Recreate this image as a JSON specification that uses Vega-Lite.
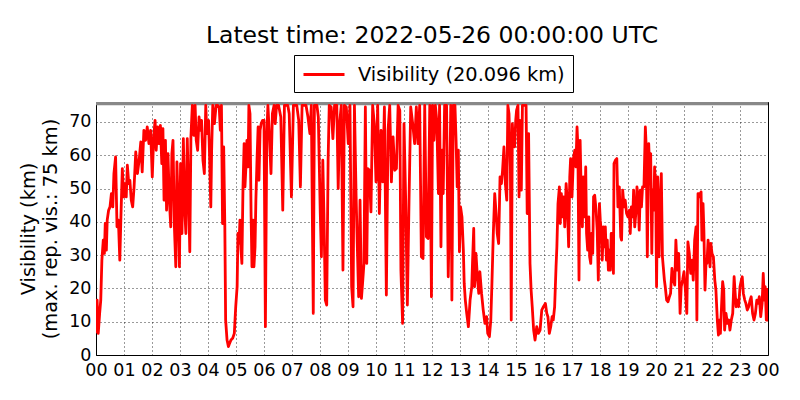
{
  "$schema": "https://vega.github.io/schema/vega-lite/v6.json",
  "width": 672,
  "height": 253,
  "autosize": {"type": "none"},
  "padding": {"left": 96, "top": 102, "right": 32, "bottom": 45},
  "background": "white",
  "title": {
    "text": "Latest time: 2022-05-26 00:00:00 UTC",
    "font": "DejaVu Sans",
    "fontSize": 23.5,
    "fontWeight": "normal",
    "color": "black",
    "anchor": "middle",
    "baseline": "alphabetic",
    "offset": 12,
    "dy": 24
  },
  "layer": [
    {
      "data": {"values": [{"lo": 75, "hi": 76}]},
      "mark": {"type": "rect", "color": "#888888"},
      "encoding": {
        "y": {
          "field": "lo",
          "type": "quantitative",
          "scale": {"domain": [0, 76], "nice": false},
          "axis": {
            "title": ["Visibility (km)", "(max. rep. vis.: 75 km)"],
            "values": [0, 10, 20, 30, 40, 50, 60, 70],
            "labelFlush": false,
            "labelPadding": 5,
            "titlePadding": 8
          }
        },
        "y2": {"field": "hi"}
      }
    },
    {
      "data": {
        "values": [
          {"h": 0.00, "vis": 6.5}, {"h": 0.04, "vis": 16.5}, {"h": 0.08, "vis": 6.5}, {"h": 0.13, "vis": 12.5}, {"h": 0.17, "vis": 16.5},
          {"h": 0.21, "vis": 28.5}, {"h": 0.26, "vis": 34.5}, {"h": 0.30, "vis": 30.5}, {"h": 0.33, "vis": 39.5}, {"h": 0.37, "vis": 31.5},
          {"h": 0.40, "vis": 40.5}, {"h": 0.45, "vis": 43.5}, {"h": 0.50, "vis": 44.5}, {"h": 0.55, "vis": 48.5}, {"h": 0.60, "vis": 44.5},
          {"h": 0.64, "vis": 54.5}, {"h": 0.70, "vis": 59.5}, {"h": 0.75, "vis": 38.5}, {"h": 0.80, "vis": 40.5}, {"h": 0.85, "vis": 28.5},
          {"h": 0.89, "vis": 41.5}, {"h": 0.94, "vis": 56}, {"h": 0.99, "vis": 47.5}, {"h": 1.04, "vis": 51.5}, {"h": 1.08, "vis": 47.5},
          {"h": 1.12, "vis": 57}, {"h": 1.17, "vis": 51.5}, {"h": 1.21, "vis": 52.5}, {"h": 1.26, "vis": 46.5}, {"h": 1.31, "vis": 44.5},
          {"h": 1.36, "vis": 50.5}, {"h": 1.42, "vis": 61}, {"h": 1.48, "vis": 54.5}, {"h": 1.54, "vis": 58.5}, {"h": 1.60, "vis": 64},
          {"h": 1.65, "vis": 55}, {"h": 1.71, "vis": 67.5}, {"h": 1.77, "vis": 64.5}, {"h": 1.83, "vis": 68.5}, {"h": 1.89, "vis": 63.5},
          {"h": 1.95, "vis": 67.5}, {"h": 2.01, "vis": 53.5}, {"h": 2.06, "vis": 65.5}, {"h": 2.11, "vis": 70.5}, {"h": 2.15, "vis": 61.5},
          {"h": 2.20, "vis": 68.5}, {"h": 2.25, "vis": 63.5}, {"h": 2.30, "vis": 69}, {"h": 2.35, "vis": 57.5}, {"h": 2.39, "vis": 68},
          {"h": 2.43, "vis": 46.5}, {"h": 2.48, "vis": 64.5}, {"h": 2.52, "vis": 43.5}, {"h": 2.57, "vis": 60.5}, {"h": 2.62, "vis": 46.5},
          {"h": 2.67, "vis": 38.5}, {"h": 2.71, "vis": 60.5}, {"h": 2.75, "vis": 64.5}, {"h": 2.80, "vis": 38.5}, {"h": 2.85, "vis": 26.5},
          {"h": 2.89, "vis": 58}, {"h": 2.93, "vis": 46.5}, {"h": 2.98, "vis": 26.5}, {"h": 3.02, "vis": 57.5}, {"h": 3.07, "vis": 36.5},
          {"h": 3.12, "vis": 65}, {"h": 3.17, "vis": 43.5}, {"h": 3.21, "vis": 36.5}, {"h": 3.26, "vis": 65}, {"h": 3.31, "vis": 46.5},
          {"h": 3.35, "vis": 31}, {"h": 3.39, "vis": 65.5}, {"h": 3.44, "vis": 75}, {"h": 3.49, "vis": 66}, {"h": 3.54, "vis": 75},
          {"h": 3.58, "vis": 64.5}, {"h": 3.63, "vis": 61.5}, {"h": 3.68, "vis": 71.5}, {"h": 3.73, "vis": 67.5}, {"h": 3.77, "vis": 70.5},
          {"h": 3.82, "vis": 58.5}, {"h": 3.87, "vis": 54.5}, {"h": 3.92, "vis": 75}, {"h": 3.96, "vis": 66.5},
          {"h": 4.02, "vis": 70.5}, {"h": 4.06, "vis": 58.5}, {"h": 4.10, "vis": 44.5}, {"h": 4.13, "vis": 61.5}, {"h": 4.17, "vis": 75},
          {"h": 4.23, "vis": 69.5}, {"h": 4.29, "vis": 75}, {"h": 4.35, "vis": 75}, {"h": 4.40, "vis": 74.5}, {"h": 4.44, "vis": 67.5},
          {"h": 4.48, "vis": 75}, {"h": 4.52, "vis": 39.5}, {"h": 4.56, "vis": 62.5}, {"h": 4.60, "vis": 39.5}, {"h": 4.63, "vis": 10.5},
          {"h": 4.68, "vis": 4.5}, {"h": 4.73, "vis": 2.5}, {"h": 4.77, "vis": 3.5}, {"h": 4.82, "vis": 4.5}, {"h": 4.88, "vis": 5},
          {"h": 4.94, "vis": 6.5}, {"h": 4.99, "vis": 14.5}, {"h": 5.04, "vis": 20.5}, {"h": 5.07, "vis": 36.5}, {"h": 5.11, "vis": 33.5},
          {"h": 5.14, "vis": 40.5}, {"h": 5.18, "vis": 31.5}, {"h": 5.21, "vis": 27.5}, {"h": 5.25, "vis": 50.5}, {"h": 5.29, "vis": 63.5},
          {"h": 5.32, "vis": 50.5}, {"h": 5.36, "vis": 57.5}, {"h": 5.39, "vis": 64.5}, {"h": 5.43, "vis": 56.5}, {"h": 5.46, "vis": 75},
          {"h": 5.50, "vis": 72.5}, {"h": 5.54, "vis": 41.5}, {"h": 5.57, "vis": 26.5}, {"h": 5.61, "vis": 40.5}, {"h": 5.64, "vis": 26.5},
          {"h": 5.68, "vis": 32.5}, {"h": 5.71, "vis": 46.5}, {"h": 5.75, "vis": 58.5}, {"h": 5.79, "vis": 68.5}, {"h": 5.82, "vis": 52.5},
          {"h": 5.86, "vis": 67.5}, {"h": 5.90, "vis": 69.5}, {"h": 5.95, "vis": 70.5}, {"h": 6.00, "vis": 70.5}, {"h": 6.05, "vis": 8.5},
          {"h": 6.10, "vis": 66.5}, {"h": 6.14, "vis": 75}, {"h": 6.19, "vis": 66.5}, {"h": 6.25, "vis": 54.5}, {"h": 6.30, "vis": 72.5},
          {"h": 6.36, "vis": 75}, {"h": 6.40, "vis": 69.5}, {"h": 6.45, "vis": 75}, {"h": 6.52, "vis": 75}, {"h": 6.60, "vis": 71.5},
          {"h": 6.67, "vis": 43.5}, {"h": 6.73, "vis": 75}, {"h": 6.85, "vis": 75}, {"h": 6.90, "vis": 72.5}, {"h": 6.98, "vis": 47.5},
          {"h": 7.05, "vis": 75}, {"h": 7.17, "vis": 75}, {"h": 7.24, "vis": 70.5}, {"h": 7.30, "vis": 50.5}, {"h": 7.36, "vis": 75},
          {"h": 7.50, "vis": 75}, {"h": 7.57, "vis": 71.5}, {"h": 7.64, "vis": 66.5}, {"h": 7.69, "vis": 75}, {"h": 7.76, "vis": 12.5},
          {"h": 7.80, "vis": 75}, {"h": 7.89, "vis": 75}, {"h": 7.94, "vis": 71.5}, {"h": 8.01, "vis": 42.5},
          {"h": 8.05, "vis": 29.5}, {"h": 8.10, "vis": 58.5}, {"h": 8.14, "vis": 42.5}, {"h": 8.19, "vis": 16.5}, {"h": 8.24, "vis": 15},
          {"h": 8.29, "vis": 58.5}, {"h": 8.33, "vis": 75}, {"h": 8.40, "vis": 74.5}, {"h": 8.46, "vis": 65}, {"h": 8.52, "vis": 75},
          {"h": 8.60, "vis": 75}, {"h": 8.65, "vis": 50}, {"h": 8.70, "vis": 69.5}, {"h": 8.76, "vis": 75}, {"h": 8.82, "vis": 25.5},
          {"h": 8.87, "vis": 75}, {"h": 8.94, "vis": 74.5}, {"h": 9.01, "vis": 63.5}, {"h": 9.07, "vis": 75}, {"h": 9.13, "vis": 20.5},
          {"h": 9.18, "vis": 14.5}, {"h": 9.23, "vis": 75}, {"h": 9.29, "vis": 47.5}, {"h": 9.33, "vis": 33.5}, {"h": 9.38, "vis": 17.5},
          {"h": 9.43, "vis": 46.5}, {"h": 9.48, "vis": 17}, {"h": 9.52, "vis": 21.5}, {"h": 9.57, "vis": 27.5}, {"h": 9.62, "vis": 74.5},
          {"h": 9.67, "vis": 27.5}, {"h": 9.71, "vis": 56}, {"h": 9.76, "vis": 55.5}, {"h": 9.82, "vis": 43}, {"h": 9.88, "vis": 75},
          {"h": 9.94, "vis": 69.5}, {"h": 10.00, "vis": 52}, {"h": 10.06, "vis": 75}, {"h": 10.12, "vis": 42.5}, {"h": 10.18, "vis": 67.5},
          {"h": 10.24, "vis": 52}, {"h": 10.30, "vis": 74.5}, {"h": 10.37, "vis": 18}, {"h": 10.43, "vis": 67.5}, {"h": 10.49, "vis": 75},
          {"h": 10.55, "vis": 52}, {"h": 10.61, "vis": 65.5}, {"h": 10.67, "vis": 55.5}, {"h": 10.73, "vis": 56}, {"h": 10.79, "vis": 75},
          {"h": 10.85, "vis": 73.5}, {"h": 10.89, "vis": 25.5}, {"h": 10.95, "vis": 9.5}, {"h": 11.00, "vis": 69.5}, {"h": 11.06, "vis": 46.5},
          {"h": 11.12, "vis": 15}, {"h": 11.18, "vis": 46.5}, {"h": 11.24, "vis": 74.5}, {"h": 11.31, "vis": 69.5}, {"h": 11.38, "vis": 63.5},
          {"h": 11.44, "vis": 74.5}, {"h": 11.50, "vis": 63.5}, {"h": 11.56, "vis": 75}, {"h": 11.62, "vis": 29.5}, {"h": 11.68, "vis": 29},
          {"h": 11.74, "vis": 75}, {"h": 11.80, "vis": 35.5}, {"h": 11.86, "vis": 35}, {"h": 11.92, "vis": 75}, {"h": 11.98, "vis": 17.5},
          {"h": 12.02, "vis": 75}, {"h": 12.07, "vis": 64.5}, {"h": 12.12, "vis": 75}, {"h": 12.17, "vis": 70.5}, {"h": 12.23, "vis": 48.5},
          {"h": 12.27, "vis": 75}, {"h": 12.32, "vis": 32.5}, {"h": 12.36, "vis": 61.5}, {"h": 12.40, "vis": 48.5}, {"h": 12.45, "vis": 75},
          {"h": 12.52, "vis": 75}, {"h": 12.58, "vis": 23.5}, {"h": 12.62, "vis": 41.5}, {"h": 12.67, "vis": 75}, {"h": 12.71, "vis": 16.5},
          {"h": 12.76, "vis": 75}, {"h": 12.82, "vis": 75}, {"h": 12.86, "vis": 64.5}, {"h": 12.90, "vis": 50.5}, {"h": 12.94, "vis": 61.5},
          {"h": 12.98, "vis": 31}, {"h": 13.02, "vis": 44.5}, {"h": 13.07, "vis": 41.5}, {"h": 13.12, "vis": 31.5}, {"h": 13.15, "vis": 21.5},
          {"h": 13.19, "vis": 16.5}, {"h": 13.24, "vis": 12.5}, {"h": 13.30, "vis": 8.5}, {"h": 13.36, "vis": 16.5}, {"h": 13.42, "vis": 20.5},
          {"h": 13.45, "vis": 28.5}, {"h": 13.49, "vis": 38}, {"h": 13.52, "vis": 20.5}, {"h": 13.57, "vis": 30.5}, {"h": 13.62, "vis": 23.5},
          {"h": 13.67, "vis": 18.5}, {"h": 13.71, "vis": 25}, {"h": 13.77, "vis": 18.5}, {"h": 13.83, "vis": 13.5}, {"h": 13.89, "vis": 9.5},
          {"h": 13.95, "vis": 11.5}, {"h": 13.99, "vis": 6.5}, {"h": 14.05, "vis": 5.5}, {"h": 14.10, "vis": 10.5}, {"h": 14.14, "vis": 21.5},
          {"h": 14.19, "vis": 36.5}, {"h": 14.24, "vis": 48.5}, {"h": 14.29, "vis": 42.5}, {"h": 14.33, "vis": 36.5}, {"h": 14.38, "vis": 33.5},
          {"h": 14.43, "vis": 53.5}, {"h": 14.48, "vis": 51.5}, {"h": 14.52, "vis": 55.5}, {"h": 14.57, "vis": 62.5}, {"h": 14.62, "vis": 51.5},
          {"h": 14.67, "vis": 46.5}, {"h": 14.71, "vis": 75}, {"h": 14.75, "vis": 72.5}, {"h": 14.80, "vis": 56.5}, {"h": 14.83, "vis": 10.5},
          {"h": 14.87, "vis": 69.5}, {"h": 14.90, "vis": 64.5}, {"h": 14.95, "vis": 62.5}, {"h": 14.99, "vis": 70.5}, {"h": 15.02, "vis": 73.5},
          {"h": 15.07, "vis": 75}, {"h": 15.11, "vis": 47.5}, {"h": 15.14, "vis": 70.5}, {"h": 15.19, "vis": 49.5}, {"h": 15.23, "vis": 75},
          {"h": 15.30, "vis": 75}, {"h": 15.36, "vis": 75}, {"h": 15.40, "vis": 42.5}, {"h": 15.45, "vis": 66.5}, {"h": 15.50, "vis": 27.5},
          {"h": 15.54, "vis": 19.5}, {"h": 15.58, "vis": 14.5}, {"h": 15.63, "vis": 7.5}, {"h": 15.68, "vis": 4.5}, {"h": 15.74, "vis": 8.5},
          {"h": 15.80, "vis": 6.5}, {"h": 15.86, "vis": 7.5}, {"h": 15.92, "vis": 13.5}, {"h": 15.98, "vis": 14.5},
          {"h": 16.05, "vis": 15.5}, {"h": 16.10, "vis": 12.5}, {"h": 16.14, "vis": 11.5}, {"h": 16.19, "vis": 6.5}, {"h": 16.24, "vis": 8.5},
          {"h": 16.29, "vis": 11.5}, {"h": 16.33, "vis": 10.5}, {"h": 16.38, "vis": 14.5}, {"h": 16.43, "vis": 26.5}, {"h": 16.46, "vis": 32.5},
          {"h": 16.50, "vis": 45.5}, {"h": 16.55, "vis": 50.5}, {"h": 16.58, "vis": 39.5}, {"h": 16.62, "vis": 48.5}, {"h": 16.67, "vis": 41.5},
          {"h": 16.70, "vis": 47.5}, {"h": 16.74, "vis": 38.5}, {"h": 16.79, "vis": 51.5}, {"h": 16.83, "vis": 46.5}, {"h": 16.88, "vis": 32.5},
          {"h": 16.92, "vis": 53.5}, {"h": 16.95, "vis": 59}, {"h": 17.00, "vis": 47.5}, {"h": 17.05, "vis": 59}, {"h": 17.10, "vis": 61.5},
          {"h": 17.14, "vis": 56.5}, {"h": 17.18, "vis": 68.5}, {"h": 17.21, "vis": 62.5}, {"h": 17.25, "vis": 22.5}, {"h": 17.29, "vis": 64.5},
          {"h": 17.33, "vis": 48.5}, {"h": 17.37, "vis": 38.5}, {"h": 17.40, "vis": 53.5}, {"h": 17.45, "vis": 41.5}, {"h": 17.49, "vis": 56.5},
          {"h": 17.52, "vis": 36.5}, {"h": 17.56, "vis": 31.5}, {"h": 17.60, "vis": 41.5}, {"h": 17.63, "vis": 29.5}, {"h": 17.67, "vis": 27.5},
          {"h": 17.70, "vis": 36.5}, {"h": 17.74, "vis": 30.5}, {"h": 17.77, "vis": 47.5}, {"h": 17.81, "vis": 48}, {"h": 17.86, "vis": 43.5},
          {"h": 17.90, "vis": 37.5}, {"h": 17.94, "vis": 22.5}, {"h": 17.98, "vis": 45.5}, {"h": 18.01, "vis": 40.5}, {"h": 18.05, "vis": 36.5},
          {"h": 18.08, "vis": 28.5}, {"h": 18.12, "vis": 38.5}, {"h": 18.15, "vis": 32.5}, {"h": 18.19, "vis": 38.5}, {"h": 18.23, "vis": 28.5},
          {"h": 18.26, "vis": 34.5}, {"h": 18.30, "vis": 25.5}, {"h": 18.33, "vis": 31.5}, {"h": 18.37, "vis": 25.5}, {"h": 18.40, "vis": 36.5},
          {"h": 18.44, "vis": 36.5}, {"h": 18.48, "vis": 24.5}, {"h": 18.50, "vis": 57.5}, {"h": 18.55, "vis": 58.5}, {"h": 18.60, "vis": 59},
          {"h": 18.64, "vis": 44.5}, {"h": 18.69, "vis": 50.5}, {"h": 18.74, "vis": 35.5}, {"h": 18.77, "vis": 34.5}, {"h": 18.81, "vis": 49.5},
          {"h": 18.86, "vis": 44.5}, {"h": 18.90, "vis": 46.5}, {"h": 18.95, "vis": 42.5}, {"h": 19.00, "vis": 41.5}, {"h": 19.05, "vis": 43.5},
          {"h": 19.08, "vis": 36.5}, {"h": 19.12, "vis": 44.5}, {"h": 19.17, "vis": 41.5}, {"h": 19.20, "vis": 49.5}, {"h": 19.24, "vis": 38.5},
          {"h": 19.29, "vis": 43.5}, {"h": 19.32, "vis": 50.5}, {"h": 19.36, "vis": 47.5}, {"h": 19.40, "vis": 37.5}, {"h": 19.44, "vis": 49.5},
          {"h": 19.48, "vis": 44.5}, {"h": 19.52, "vis": 50.5}, {"h": 19.57, "vis": 50.5}, {"h": 19.62, "vis": 68.5}, {"h": 19.65, "vis": 62.5},
          {"h": 19.69, "vis": 29.5}, {"h": 19.74, "vis": 63.5}, {"h": 19.77, "vis": 56.5}, {"h": 19.81, "vis": 60.5}, {"h": 19.85, "vis": 30.5},
          {"h": 19.88, "vis": 49.5}, {"h": 19.92, "vis": 43.5}, {"h": 19.95, "vis": 56.5}, {"h": 19.99, "vis": 49.5}, {"h": 20.02, "vis": 20.5},
          {"h": 20.06, "vis": 53.5},
          {"h": 20.11, "vis": 29.5}, {"h": 20.14, "vis": 43.5}, {"h": 20.19, "vis": 54.5}, {"h": 20.23, "vis": 29.5}, {"h": 20.26, "vis": 26.5},
          {"h": 20.30, "vis": 22.5}, {"h": 20.33, "vis": 20.5}, {"h": 20.38, "vis": 16.5}, {"h": 20.43, "vis": 16}, {"h": 20.48, "vis": 17.5},
          {"h": 20.52, "vis": 18.5}, {"h": 20.57, "vis": 26}, {"h": 20.62, "vis": 22.5}, {"h": 20.67, "vis": 21}, {"h": 20.71, "vis": 34.5},
          {"h": 20.76, "vis": 25.5}, {"h": 20.81, "vis": 30.5}, {"h": 20.86, "vis": 12.5}, {"h": 20.90, "vis": 20.5}, {"h": 20.95, "vis": 22.5},
          {"h": 21.00, "vis": 25}, {"h": 21.05, "vis": 19.5}, {"h": 21.10, "vis": 12.5}, {"h": 21.14, "vis": 34}, {"h": 21.19, "vis": 30.5},
          {"h": 21.24, "vis": 24.5}, {"h": 21.29, "vis": 28.5}, {"h": 21.33, "vis": 22.5}, {"h": 21.38, "vis": 34.5}, {"h": 21.43, "vis": 38.5},
          {"h": 21.46, "vis": 10.5}, {"h": 21.50, "vis": 48.5}, {"h": 21.54, "vis": 48.5}, {"h": 21.57, "vis": 47.5}, {"h": 21.61, "vis": 49},
          {"h": 21.64, "vis": 34.5}, {"h": 21.68, "vis": 45.5}, {"h": 21.71, "vis": 37.5}, {"h": 21.75, "vis": 19.5}, {"h": 21.79, "vis": 28.5},
          {"h": 21.82, "vis": 27.5}, {"h": 21.86, "vis": 34.5}, {"h": 21.89, "vis": 31.5}, {"h": 21.93, "vis": 26.5}, {"h": 21.96, "vis": 33.5},
          {"h": 22.00, "vis": 30.5}, {"h": 22.05, "vis": 29.5}, {"h": 22.10, "vis": 22.5}, {"h": 22.14, "vis": 19.5}, {"h": 22.19, "vis": 10.5},
          {"h": 22.23, "vis": 6}, {"h": 22.26, "vis": 10.5}, {"h": 22.30, "vis": 6.5}, {"h": 22.35, "vis": 16.5}, {"h": 22.38, "vis": 22},
          {"h": 22.42, "vis": 19.5}, {"h": 22.45, "vis": 7.5}, {"h": 22.50, "vis": 12.5}, {"h": 22.55, "vis": 9.5}, {"h": 22.60, "vis": 10.5},
          {"h": 22.64, "vis": 7.5}, {"h": 22.69, "vis": 10.5}, {"h": 22.74, "vis": 12.5}, {"h": 22.79, "vis": 23.5}, {"h": 22.82, "vis": 19.5},
          {"h": 22.86, "vis": 14.5}, {"h": 22.90, "vis": 16.5}, {"h": 22.95, "vis": 14.5}, {"h": 23.00, "vis": 20.5}, {"h": 23.05, "vis": 22.5},
          {"h": 23.08, "vis": 23.5}, {"h": 23.12, "vis": 18.5}, {"h": 23.17, "vis": 16.5}, {"h": 23.21, "vis": 15.5}, {"h": 23.26, "vis": 13.5},
          {"h": 23.31, "vis": 14.5}, {"h": 23.36, "vis": 16.5}, {"h": 23.40, "vis": 17.5}, {"h": 23.45, "vis": 12.5}, {"h": 23.50, "vis": 10.5},
          {"h": 23.55, "vis": 12.5}, {"h": 23.60, "vis": 16.5}, {"h": 23.64, "vis": 15.5}, {"h": 23.69, "vis": 17.5}, {"h": 23.74, "vis": 11.5},
          {"h": 23.79, "vis": 15.5}, {"h": 23.83, "vis": 24.5}, {"h": 23.87, "vis": 16.5}, {"h": 23.90, "vis": 20.5}, {"h": 23.94, "vis": 10.5},
          {"h": 23.98, "vis": 16.5}, {"h": 23.99, "vis": 10.5}, {"h": 24.00, "vis": 20.1}
        ]
      },
      "mark": {"type": "line", "color": "#ff0000", "strokeWidth": 2.8, "clip": true, "strokeJoin": "round"},
      "encoding": {
        "x": {
          "field": "h",
          "type": "quantitative",
          "scale": {"domain": [0, 24], "nice": false},
          "axis": {
            "title": null,
            "values": [0, 1, 2, 3, 4, 5, 6, 7, 8, 9, 10, 11, 12, 13, 14, 15, 16, 17, 18, 19, 20, 21, 22, 23, 24],
            "labelExpr": "datum.value == 24 ? '00' : (datum.value < 10 ? '0' : '') + datum.value",
            "labelOverlap": false,
            "labelFlush": false,
            "labelPadding": 6
          }
        },
        "y": {
          "field": "vis",
          "type": "quantitative",
          "scale": {"domain": [0, 76], "nice": false},
          "axis": {
            "title": ["Visibility (km)", "(max. rep. vis.: 75 km)"],
            "values": [0, 10, 20, 30, 40, 50, 60, 70],
            "labelFlush": false,
            "labelPadding": 5,
            "titlePadding": 8
          }
        },
        "color": {
          "datum": "Visibility (20.096 km)",
          "type": "nominal",
          "scale": {"range": ["#ff0000"]},
          "legend": {
            "title": null,
            "orient": "none",
            "legendX": 198,
            "legendY": -47,
            "symbolType": "M-1,0H3.1",
            "symbolStrokeWidth": 3,
            "symbolSize": 400,
            "labelOffset": 33,
            "padding": 8,
            "strokeColor": "black",
            "fillColor": "white",
            "cornerRadius": 0
          }
        }
      }
    }
  ],
  "config": {
    "font": "DejaVu Sans",
    "view": {"stroke": "black", "strokeWidth": 1},
    "axis": {
      "labelFont": "DejaVu Sans",
      "labelFontSize": 17.5,
      "labelColor": "black",
      "titleFont": "DejaVu Sans",
      "titleFontSize": 19.4,
      "titleFontWeight": "normal",
      "titleColor": "black",
      "titleLineHeight": 22,
      "grid": true,
      "gridColor": "black",
      "gridDash": [1, 3],
      "gridWidth": 0.8,
      "gridOpacity": 1,
      "domain": false,
      "ticks": false
    },
    "legend": {
      "labelFont": "DejaVu Sans",
      "labelFontSize": 19.4,
      "labelColor": "black",
      "labelLimit": 400
    }
  }
}
